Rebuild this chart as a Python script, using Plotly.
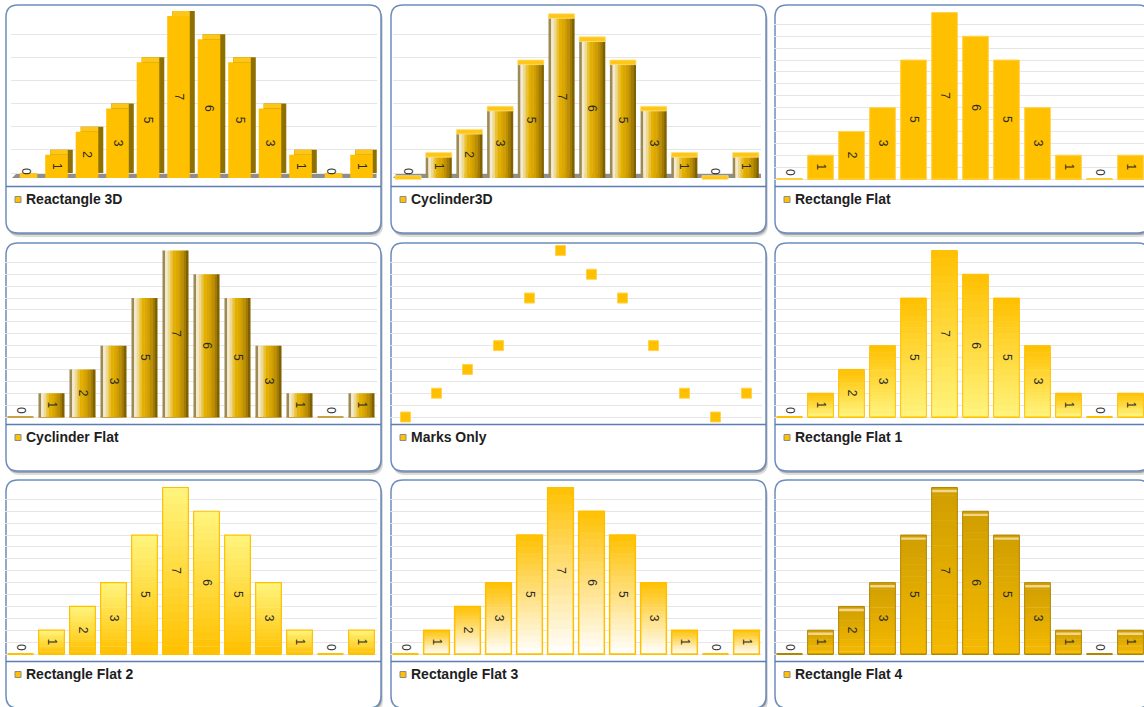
import plotly.graph_objects as go

# ---------------- data ----------------
categories = ["1", "2", "3", "4", "5", "6", "7", "8", "9", "10", "11", "12"]
values = [0, 1, 2, 3, 5, 7, 6, 5, 3, 1, 0, 1]
series_names = ["Reactangle 3D", "Cyclinder3D", "Rectangle Flat",
                "Cyclinder Flat", "Marks Only", "Rectangle Flat 1",
                "Rectangle Flat 2", "Rectangle Flat 3", "Rectangle Flat 4"]
panel_kinds = ["rect3d", "cyl3d", "flat", "cylflat", "marks",
               "grad1", "grad2", "grad3", "flat4"]

# ---------------- styling ----------------
W, H = 1144, 707
COL_LEFT = [6, 391, 775]
ROW_TOP = [5, 243, 480]
PW, PH = 375, 228
FONT = "Liberation Sans, Arial, sans-serif"
GOLD = "#FFC000"
GRID = "#E6E6E6"
BORDER = "#6D8DBB"
CYL = ["#9E8A55", "#F2EBD3", "#EFD98F", "#E9C23A", "#E3B000",
       "#DCA800", "#D09E00", "#BE8F00", "#A47B00", "#806100"]
GRADS = {
    "grad1": ("#FFF47E", "#FFC000", "#FFC000", 1.0),
    "grad2": ("#FFC000", "#FFF57E", "#FFC000", 1.2),
    "grad3": ("#FFFFFF", "#FFC000", "#FFC000", 1.5),
    "flat4": ("#F5B900", "#CF9E00", "#B08600", 1.0),
}
NS = 20

n = len(values)
xpos = list(range(n))


def fx(p):
    return p / W


def fy(p):
    return 1 - p / H


def h2r(h):
    h = h.lstrip("#")
    return [int(h[i:i + 2], 16) for i in (0, 2, 4)]


def lerp(c0, c1, t):
    a, b = h2r(c0), h2r(c1)
    return "rgb(%d,%d,%d)" % tuple(round(a[i] + (b[i] - a[i]) * t) for i in range(3))


def rrect(x0, y0, x1, y1, r):
    X = lambda v: "%.5f" % fx(v)
    Y = lambda v: "%.5f" % fy(v)
    return (f"M{X(x0 + r)},{Y(y0)} L{X(x1 - r)},{Y(y0)} Q{X(x1)},{Y(y0)} {X(x1)},{Y(y0 + r)} "
            f"L{X(x1)},{Y(y1 - r)} Q{X(x1)},{Y(y1)} {X(x1 - r)},{Y(y1)} "
            f"L{X(x0 + r)},{Y(y1)} Q{X(x0)},{Y(y1)} {X(x0)},{Y(y1 - r)} "
            f"L{X(x0)},{Y(y0 + r)} Q{X(x0)},{Y(y0)} {X(x0 + r)},{Y(y0)} Z")


fig = go.Figure()
layout = dict(width=W, height=H, autosize=False,
              margin=dict(l=0, r=0, t=0, b=0, pad=0),
              paper_bgcolor="white", plot_bgcolor="rgba(0,0,0,0)",
              showlegend=False, barmode="overlay", bargap=0.2,
              hovermode=False)
shapes, annotations = [], []

labels_text = [str(v) for v in values]
text_pos = ["outside" if v == 0 else "inside" for v in values]
TXT = dict(size=12, color="#2A2A2A", family=FONT)


def bar(xa, ya, y, width, offset, color, base=None, line_color=None,
        line_width=0, text=None):
    kw = dict(x=xpos, y=y, width=width, offset=offset, base=base,
              xaxis=xa, yaxis=ya, hoverinfo="skip",
              marker=dict(color=color,
                          line=dict(color=line_color or color, width=line_width)))
    if text is not None:
        kw.update(text=text, textposition=text_pos, textangle=90,
                  insidetextanchor="middle", textfont=TXT,
                  constraintext="none", cliponaxis=False)
    fig.add_trace(go.Bar(**kw))


for i, (name, kind) in enumerate(zip(series_names, panel_kinds)):
    r, c = divmod(i, 3)
    L, T = COL_LEFT[c], ROW_TOP[r]
    k = i + 1
    xa = "x" if k == 1 else f"x{k}"
    ya = "y" if k == 1 else f"y{k}"
    xkey = "xaxis" if k == 1 else f"xaxis{k}"
    ykey = "yaxis" if k == 1 else f"yaxis{k}"

    # ---- panel frame ----
    shapes.append(dict(type="path", xref="paper", yref="paper", layer="below",
                       path=rrect(L + 2, T + 4, L + PW + 2, T + PH + 4, 12),
                       fillcolor="rgba(60,60,60,0.18)", line=dict(width=0)))
    shapes.append(dict(type="path", xref="paper", yref="paper", layer="below",
                       path=rrect(L + 1, T + 2, L + PW + 1, T + PH + 2, 12),
                       fillcolor="rgba(60,60,60,0.35)", line=dict(width=0)))
    shapes.append(dict(type="path", xref="paper", yref="paper", layer="below",
                       path=rrect(L, T, L + PW, T + PH, 12),
                       fillcolor="white", line=dict(color=BORDER, width=1.5)))
    shapes.append(dict(type="line", xref="paper", yref="paper", layer="below",
                       x0=fx(L), x1=fx(L + PW), y0=fy(T + 181.5), y1=fy(T + 181.5),
                       line=dict(color="#5B7DB1", width=1.5)))
    # legend
    shapes.append(dict(type="rect", xref="paper", yref="paper", layer="below",
                       x0=fx(L + 9), x1=fx(L + 15), y0=fy(T + 191.5), y1=fy(T + 197.5),
                       fillcolor=GOLD, line=dict(color="#8C8C8C", width=1)))
    annotations.append(dict(xref="paper", yref="paper", x=fx(L + 17.5), y=fy(T + 194),
                            xanchor="left", yanchor="middle", showarrow=False,
                            text=name, font=dict(size=14, color="#1E1E1E",
                                                 family=FONT, weight="bold")))

    # ---- axes ----
    if kind in ("rect3d", "cyl3d"):
        if kind == "rect3d":
            pl, band = L + 4.75, 30.5
        else:
            pl, band = L + 1.7, 30.7
        base_px, ppu = T + 173, 23.14
        yr = [-0.06, 7.25]
        DY = 5 / ppu
        dtick, tick0 = 1, DY
    else:
        pl, band = L - 1, 31.0
        base_px, ppu = T + 174, 23.79
        yr = [-0.05, 7.02]
        DY = 0
        dtick, tick0 = 0.5, 0
    pr = min(pl + band * n, W)
    xr = [-0.5, -0.5 + (pr - pl) / band]
    top_px = base_px - yr[1] * ppu
    bot_px = base_px - yr[0] * ppu
    layout[xkey] = dict(domain=[fx(pl), fx(pr)], range=xr, anchor=ya,
                        visible=False, fixedrange=True)
    layout[ykey] = dict(domain=[fy(bot_px), fy(top_px)], range=yr, anchor=xa,
                        showticklabels=False, ticks="", showline=False,
                        zeroline=False, showgrid=True, gridcolor=GRID,
                        gridwidth=1, dtick=dtick, tick0=tick0, fixedrange=True)

    def ux(p):
        return (p - pl) / band - 0.5

    # ---- marks ----
    if kind == "rect3d":
        W3, DX = 0.74, 5 / band
        shapes.append(dict(type="path", xref=xa, yref=ya, layer="below",
                           path=f"M{ux(L + 6):.4f},0 L{ux(L + 11):.4f},{DY:.4f} "
                                f"L{xr[1]:.4f},{DY:.4f} L{xr[1]:.4f},0 Z",
                           fillcolor="#8E8E8E", line=dict(width=0)))
        bar(xa, ya, values, W3, -W3 / 2 + DX, "#8E7000", base=[DY] * n)
        bar(xa, ya, [DY] * n, W3 - DX, -W3 / 2 + DX, "#FFC61A", base=values)
        bar(xa, ya, values, W3, -W3 / 2, GOLD, text=labels_text)
    elif kind == "cyl3d":
        WC = 0.85
        shapes.append(dict(type="path", xref=xa, yref=ya, layer="below",
                           path=f"M{ux(L + 2):.4f},0 L{ux(L + 6):.4f},{DY:.4f} "
                                f"L{xr[1]:.4f},{DY:.4f} L{xr[1]:.4f},0 Z",
                           fillcolor="#8E8E8E", line=dict(width=0)))
        sw = WC / len(CYL)
        for j, col in enumerate(CYL):
            bar(xa, ya, values, sw + (0.012 if j < len(CYL) - 1 else 0),
                -WC / 2 + j * sw, col)
        cap = 0.2
        bar(xa, ya, [cap] * n, WC, -WC / 2, "#FFC61A",
            base=[v - cap / 2 for v in values], line_color="#FFE27A", line_width=0.8)
        bar(xa, ya, values, WC, -WC / 2, "rgba(0,0,0,0)", text=labels_text)
    elif kind == "flat":
        WF = 0.83
        bar(xa, ya, [0.08] * n, WF, -WF / 2, GOLD, base=[-0.04] * n)
        bar(xa, ya, values, WF, -WF / 2, GOLD, line_color="#FFD34F",
            line_width=1, text=labels_text)
    elif kind == "cylflat":
        WC = 0.84
        bar(xa, ya, [0.08] * n, WC, -WC / 2, "#C9A24A", base=[-0.04] * n)
        sw = WC / len(CYL)
        for j, col in enumerate(CYL):
            bar(xa, ya, values, sw + (0.012 if j < len(CYL) - 1 else 0),
                -WC / 2 + j * sw, col)
        bar(xa, ya, values, WC, -WC / 2, "rgba(0,0,0,0)", text=labels_text)
    elif kind == "marks":
        fig.add_trace(go.Scatter(x=xpos, y=values, mode="markers", xaxis=xa, yaxis=ya,
                                 hoverinfo="skip", cliponaxis=False,
                                 marker=dict(symbol="square", size=10, color=GOLD,
                                             line=dict(color="#FFD34F", width=1))))
    else:
        c_bot, c_top, lc, lw = GRADS[kind]
        WF = 0.83
        bar(xa, ya, [0.08] * n, WF, -WF / 2, lc, base=[-0.04] * n)
        for j in range(NS):
            t = (j + 0.5) / NS
            ov = 0.02 if j < NS - 1 else 0
            bar(xa, ya, [v / NS + (ov if v > 0 else 0) for v in values], WF, -WF / 2,
                lerp(c_bot, c_top, t), base=[v * j / NS for v in values])
        if kind == "flat4":
            bar(xa, ya, [0.1 if v > 0 else 0 for v in values], WF, -WF / 2,
                "#F2D68E", base=[v - 0.2 if v > 0 else 0 for v in values])
        bar(xa, ya, values, WF, -WF / 2, "rgba(0,0,0,0)", line_color=lc,
            line_width=lw, text=labels_text)

layout["shapes"] = shapes
layout["annotations"] = annotations
fig.update_layout(**layout)
fig.write_html("out.html",
               config={"displayModeBar": False, "staticPlot": True},
               post_script="document.body.style.margin='0px';"
                           "document.body.style.overflow='hidden';")
